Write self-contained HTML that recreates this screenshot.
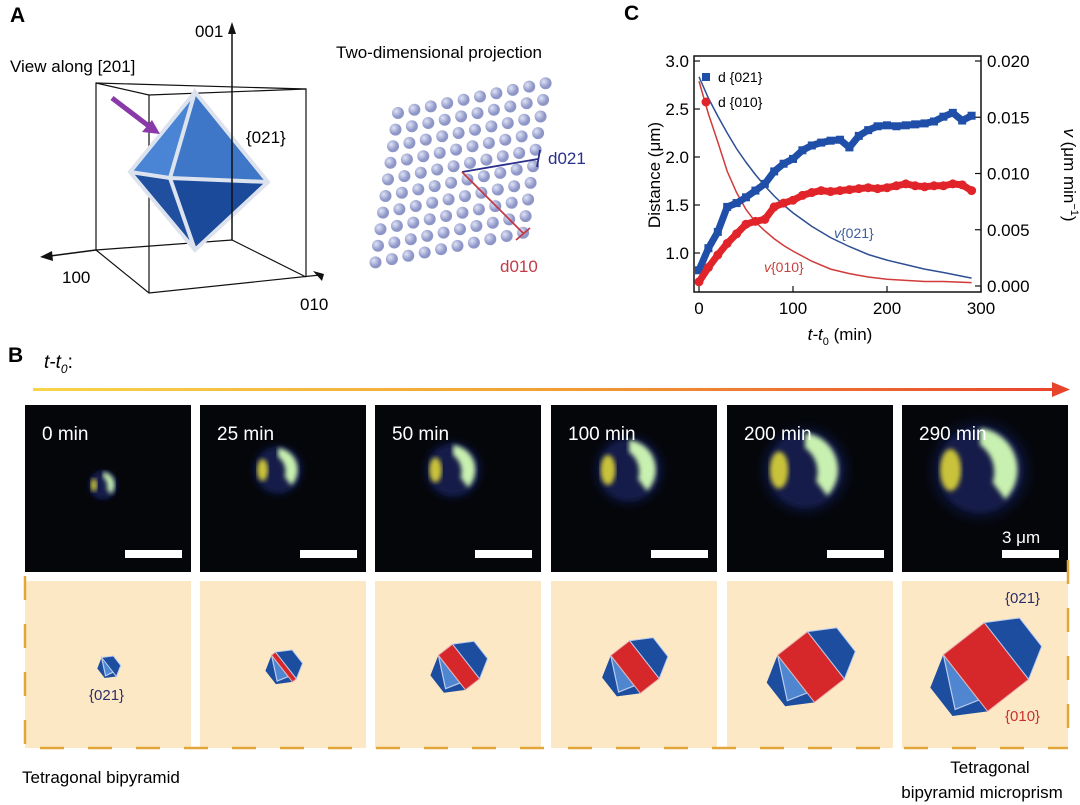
<!DOCTYPE html>
<html><head><meta charset="utf-8"><style>
html,body{margin:0;padding:0;background:#fff;}
svg{display:block;font-family:"Liberation Sans",Arial,sans-serif;}
</style></head><body>
<svg id="fig" width="1080" height="805" viewBox="0 0 1080 805" xmlns="http://www.w3.org/2000/svg">
<defs>
  <linearGradient id="arrowGrad" x1="0" x2="1" y1="0" y2="0">
    <stop offset="0" stop-color="#f7d54a"/><stop offset="0.5" stop-color="#f2a035"/><stop offset="1" stop-color="#e8442c"/>
  </linearGradient>
  <radialGradient id="halo"><stop offset="0" stop-color="#1a2a6a" stop-opacity="0.9"/><stop offset="0.7" stop-color="#0d1840" stop-opacity="0.6"/><stop offset="1" stop-color="#000" stop-opacity="0"/></radialGradient>
  <radialGradient id="dotg" cx="0.35" cy="0.35"><stop offset="0" stop-color="#dfe3f5"/><stop offset="1" stop-color="#8e96c8"/></radialGradient>
  <filter id="blur2"><feGaussianBlur stdDeviation="2.5"/></filter>
</defs>

<!-- Panel A -->
<text x="10" y="22" font-size="21" font-weight="bold">A</text>
<g id="boxA" stroke="#111" stroke-width="1.2" fill="none">
  <polyline points="96,250 96,83 306,89 306,277"/>
  <polyline points="96,83 149,95 149,293"/>
  <polyline points="149,95 306,89"/>
  <polyline points="96,250 149,293 320,275"/>
  <polyline points="96,250 232,240 306,277"/>
</g>
<g>
  <polygon points="195,92 130,172 195,250" fill="#2c5cb0"/>
  <polygon points="195,92 170,178 268,182" fill="#3e76c8"/>
  <polygon points="195,92 130,172 170,178" fill="#4a84d4"/>
  <polygon points="130,172 170,178 195,250" fill="#1f4f9e"/>
  <polygon points="170,178 268,182 195,250" fill="#1b4a9a"/>
  <polyline points="195,92 130,172 195,250 268,182 195,92 170,178 195,250" fill="none" stroke="#dde3ee" stroke-width="4"/>
  <polyline points="130,172 170,178 268,182" fill="none" stroke="#dde3ee" stroke-width="4"/>
</g>
<line x1="232" y1="240" x2="232" y2="32" stroke="#111" stroke-width="1.5"/>
<polygon points="232,22 228,34 236,34" fill="#111"/>
<line x1="96" y1="250" x2="50" y2="256" stroke="#111" stroke-width="1.5"/>
<polygon points="40,257 52,251 53,261" fill="#111"/>
<polygon points="313,271 324,274 322,281" fill="#111"/>
<text x="195" y="37" font-size="17">001</text>
<text x="62" y="283" font-size="17">100</text>
<text x="300" y="310" font-size="17">010</text>
<text x="10" y="72" font-size="17">View along [201]</text>
<text x="246" y="143" font-size="17">{021}</text>
<line x1="112" y1="98" x2="150" y2="127" stroke="#8a3aa8" stroke-width="5"/>
<polygon points="160,134 142,132 152,120" fill="#8a3aa8"/>
<text x="336" y="58" font-size="17">Two-dimensional projection</text>
<g id="lattice"></g>
<line x1="462" y1="172" x2="538" y2="159" stroke="#2a2f8a" stroke-width="1.8"/>
<line x1="540" y1="150" x2="537" y2="167" stroke="#2a2f8a" stroke-width="1.8"/>
<line x1="462" y1="172" x2="523" y2="233" stroke="#c23a48" stroke-width="1.8"/>
<line x1="516" y1="240" x2="530" y2="228" stroke="#c23a48" stroke-width="1.8"/>
<text x="548" y="164" font-size="17" fill="#2a2f8a">d021</text>
<text x="500" y="272" font-size="17" fill="#c23a48">d010</text>

<!-- Panel C -->
<text x="624" y="20" font-size="21" font-weight="bold">C</text>
<g id="chart"></g>

<!-- Panel B -->
<text x="8" y="362" font-size="21" font-weight="bold">B</text>
<text x="44" y="368" font-size="19" font-style="italic">t-t<tspan font-size="12" dy="5">0</tspan><tspan dy="-5" font-style="normal">:</tspan></text>
<rect x="33" y="388" width="1025" height="3" fill="url(#arrowGrad)"/>
<polygon points="1070,389.5 1052,382 1052,397" fill="#e8442c"/>
<g id="panelsB"></g>
<g stroke="#e2a63a" stroke-width="2.5" stroke-dasharray="24 24" fill="none">
  <line x1="25" y1="576" x2="25" y2="748"/>
  <line x1="40" y1="748" x2="1068" y2="748"/>
  <line x1="1068" y1="560" x2="1068" y2="748"/>
</g>
<text x="22" y="783" font-size="17">Tetragonal bipyramid</text>
<text x="990" y="773" font-size="17" text-anchor="middle">Tetragonal</text>
<text x="982" y="798" font-size="17" text-anchor="middle">bipyramid microprism</text>
</svg>
<script>
// ---- Chart data ----
const timesD = [0,10,20,30,40,50,60,70,80,90,100,110,120,130,140,150,160,170,180,190,200,210,220,230,240,250,260,270,280,290];
const d021 = [0.82,1.05,1.22,1.48,1.52,1.58,1.65,1.72,1.85,1.93,1.98,2.07,2.12,2.15,2.17,2.18,2.1,2.22,2.28,2.32,2.33,2.32,2.33,2.34,2.35,2.37,2.42,2.46,2.38,2.43];
const d010 = [0.7,0.85,0.98,1.1,1.2,1.3,1.33,1.35,1.48,1.52,1.55,1.6,1.63,1.65,1.64,1.65,1.66,1.67,1.68,1.67,1.68,1.7,1.72,1.7,1.69,1.7,1.7,1.72,1.71,1.65];
const timesV = [0,10,20,30,40,50,60,70,80,90,100,120,140,160,180,200,220,240,260,290];
const v021 = [0.0186,0.0167,0.0151,0.0136,0.0122,0.011,0.0099,0.0089,0.008,0.0072,0.0065,0.0053,0.0043,0.0035,0.0028,0.0023,0.0019,0.0015,0.0012,0.0007];
const v010 = [0.0182,0.0153,0.0128,0.0102,0.0083,0.0068,0.0057,0.0049,0.0042,0.0036,0.0031,0.0022,0.0015,0.0011,0.0008,0.0006,0.0005,0.0004,0.0004,0.0003];
const xTicks = [0,100,200,300];
const yLeftTicks = ["1.0","1.5","2.0","2.5","3.0"];
const yRightTicks = ["0.000","0.005","0.010","0.015","0.020"];

const NS = "http://www.w3.org/2000/svg";
function mk(tag, attrs, parent){const e=document.createElementNS(NS,tag);for(const k in attrs)e.setAttribute(k,attrs[k]);parent.appendChild(e);return e;}
const xS = t => 699 + t*(981-699)/300;
const yL = v => 253 - (v-1)*96;
const yR = v => 286 - v/0.005*56.25;

const chart = document.getElementById('chart');
// axes frame
const frame = mk('rect',{x:694,y:56,width:287,height:236,fill:'none',stroke:'#111','stroke-width':1.5},chart);


xTicks.forEach(t=>{
  mk('line',{x1:xS(t),x2:xS(t),y1:292,y2:286,stroke:'#111','stroke-width':1.2},chart);
  const tx=mk('text',{x:xS(t),y:314,'font-size':17,'text-anchor':'middle'},chart);
  tx.textContent=t;
  
  
});
yLeftTicks.forEach(s=>{
  const v=parseFloat(s);
  mk('line',{x1:694,x2:700,y1:yL(v),y2:yL(v),stroke:'#111','stroke-width':1.2},chart);
  const tx=mk('text',{x:689,y:yL(v)+6,'font-size':17,'text-anchor':'end'},chart);
  tx.textContent=s;
  
  
});
yRightTicks.forEach(s=>{
  const v=parseFloat(s);
  mk('line',{x1:975,x2:981,y1:yR(v),y2:yR(v),stroke:'#111','stroke-width':1.2},chart);
  const tx=mk('text',{x:987,y:yR(v)+6,'font-size':17},chart);
  tx.textContent=s;
  
  
});
// titles
const yt=mk('text',{x:0,y:0,'font-size':17,'text-anchor':'middle',transform:'translate(660,175) rotate(-90)'},chart);
yt.textContent='Distance (μm)';


const yt2=mk('text',{x:0,y:0,'font-size':17,'text-anchor':'middle',transform:'translate(1064,175) rotate(90)'},chart);
yt2.innerHTML='<tspan font-style="italic">v</tspan> (μm min<tspan font-size="11" dy="-7">−1</tspan><tspan dy="7">)</tspan>';


const xt=mk('text',{x:840,y:340,'font-size':17,'text-anchor':'middle'},chart);
xt.innerHTML='<tspan font-style="italic">t-t</tspan><tspan font-size="11" dy="5">0</tspan><tspan dy="-5"> (min)</tspan>';


// velocity curves
function curve(ts,vs,col,name){
  const p=mk('polyline',{points:ts.map((t,i)=>xS(t)+','+yR(vs[i])).join(' '),fill:'none',stroke:col,'stroke-width':1.5},chart);
  
  
}
curve(timesV,v021,'#2e4f94','v021-curve');
curve(timesV,v010,'#d23a3a','v010-curve');
// scatter series
function series(vals,col,shape,name){
  const g=mk('g',{},chart);
  
  
  mk('polyline',{points:timesD.map((t,i)=>xS(t)+','+yL(vals[i])).join(' '),fill:'none',stroke:col,'stroke-width':7,'stroke-linejoin':'round'},g);
  timesD.forEach((t,i)=>{
    let m;
    if(shape==='sq') m=mk('rect',{x:xS(t)-4,y:yL(vals[i])-4,width:8,height:8,fill:col},g);
    else m=mk('circle',{cx:xS(t),cy:yL(vals[i]),r:4.5,fill:col},g);
    
    
  });
}
series(d021,'#1f4fa8','sq','d021-series');
series(d010,'#e0242a','ci','d010-series');
// legend
const lg=mk('g',{},chart);


mk('rect',{x:702,y:73,width:8,height:8,fill:'#1f4fa8'},lg);
mk('circle',{cx:706,cy:102,r:4.5,fill:'#e0242a'},lg);
const l1=mk('text',{x:718,y:82,'font-size':14},lg); l1.textContent='d {021}';
const l2=mk('text',{x:718,y:107,'font-size':14},lg); l2.textContent='d {010}';
const vl1=mk('text',{x:834,y:238,'font-size':14,fill:'#3a5fa0'},chart);
vl1.innerHTML='<tspan font-style="italic">v</tspan>{021}';


const vl2=mk('text',{x:764,y:272,'font-size':14,fill:'#c84040'},chart);
vl2.innerHTML='<tspan font-style="italic">v</tspan>{010}';



// lattice
const lat=document.getElementById('lattice');
for(let r=0;r<10;r++){for(let c=0;c<10;c++){
  const x=398 + c*16.4 - r*2.5;
  const y=113 - c*3.3 + r*16.6;
  if(x>560||y>272) continue;
  const d=mk('circle',{cx:x,cy:y,r:6,fill:'url(#dotg)'},lat);
  
  
}}

// panels B
const panelsB=document.getElementById('panelsB');
const px=[25,200,375,551,727,902];
const labels=['0 min','25 min','50 min','100 min','200 min','290 min'];
const radii=[13,22,25,30,37,42];
const hVals=[12,17,22,24,30,36];
const wVals=[0,5,18,24,38,52];
px.forEach((x0,i)=>{
  const g=mk('g',{},panelsB);
  
  
  mk('rect',{x:x0,y:405,width:166,height:167,fill:'#05060a'},g);
  const cx=x0+78, cy=470+(i===0?15:0), r=radii[i];
  mk('circle',{cx:cx,cy:cy,r:r*1.5,fill:'url(#halo)'},g);
  mk('circle',{cx:cx,cy:cy,r:r,fill:'#141a48',filter:'url(#blur2)'},g);
  mk('path',{d:`M ${cx} ${cy-r} A ${r} ${r} 0 0 1 ${cx+r*0.6} ${cy+r*0.7} L ${cx+r*0.3} ${cy+r*0.3} A ${r*0.8} ${r*0.8} 0 0 0 ${cx} ${cy-r*0.6} Z`,fill:'#c8f0b0',filter:'url(#blur2)'},g);
  mk('ellipse',{cx:cx-r*0.7,cy:cy,rx:r*0.25,ry:r*0.5,fill:'#c9c23a',filter:'url(#blur2)'},g);
  const t=mk('text',{x:x0+17,y:440,'font-size':19,fill:'#fff'},g); t.textContent=labels[i];
  mk('rect',{x:x0+100,y:550,width:57,height:8,fill:'#fff'},g);
  if(i===5){const s=mk('text',{x:x0+100,y:543,'font-size':17,fill:'#fff'},g); s.textContent='3 μm';}
  // beige schematic
  const b=mk('g',{},panelsB);
  
  
  mk('rect',{x:x0,y:581,width:166,height:167,fill:'#fde8c5'},b);
  const h=hVals[i], w=wVals[i], a=h*0.85;
  const c=mk('g',{transform:`translate(${x0+84},${667}) rotate(-38)`},b);
  mk('polygon',{points:`${-w/2-a},${-h*0.5} ${-w/2},${-h} ${-w/2},${h} ${-w/2-a},${h*0.5}`,fill:'#1d4d9f'},c);
  mk('polygon',{points:`${-w/2-a*0.8},${h*0.4} ${-w/2},${-h} ${-w/2+ (w>0?0:a*0.3)},${h*0.6}`,fill:'#4f86cf',stroke:'#b8cdf0','stroke-width':1.2},c);
  if(w>0) mk('rect',{x:-w/2,y:-h,width:w,height:2*h,fill:'#d6282a',stroke:'#e8b0b0','stroke-width':1},c);
  mk('polygon',{points:`${w/2},${-h} ${w/2+a},${-h*0.5} ${w/2+a},${h*0.5} ${w/2},${h}`,fill:'#1d4d9f',stroke:'#b8cdf0','stroke-width':1},c);
});
const f1=mk('text',{x:89,y:700,'font-size':15,fill:'#2a2f6a'},panelsB); f1.textContent='{021}';
 
const f2=mk('text',{x:1005,y:603,'font-size':15,fill:'#2a2f6a'},panelsB); f2.textContent='{021}';
 
const f3=mk('text',{x:1005,y:721,'font-size':15,fill:'#c83030'},panelsB); f3.textContent='{010}';
 
</script>
</body></html>
